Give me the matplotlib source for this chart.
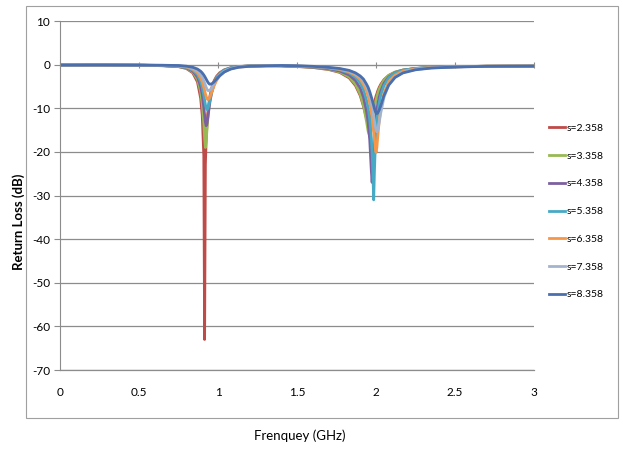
import matplotlib
matplotlib.use("Agg")
import matplotlib.pyplot as plt
from matplotlib.patches import Rectangle

plt.rcParams['font.family'] = ['Lato', 'DejaVu Sans']
plt.rcParams['axes.unicode_minus'] = False

freq = [0.0, 0.25, 0.5, 0.65, 0.75, 0.80, 0.84, 0.87, 0.89, 0.90,
        0.91, 0.915, 0.92, 0.925, 0.93, 0.935, 0.94, 0.945, 0.95, 0.96,
        0.975, 0.99, 1.01, 1.04, 1.08, 1.13, 1.2, 1.3, 1.4, 1.5,
        1.6, 1.7, 1.77, 1.83, 1.87, 1.9, 1.92, 1.94, 1.95, 1.96,
        1.97, 1.975, 1.98, 1.985, 1.99, 1.995, 2.0, 2.005, 2.01, 2.02,
        2.03, 2.05, 2.08, 2.12, 2.17, 2.25, 2.35, 2.5, 2.7, 2.85, 3.0]

s2358 = [-0.1, -0.08, -0.12, -0.25, -0.46, -0.89, -1.87, -3.97, -7.67, -11.6,
         -20.9, -63.0, -22.9, -17.0, -13.6, -11.2, -9.47, -8.1, -6.99, -5.34,
         -3.73, -2.72, -1.88, -1.18, -0.72, -0.44, -0.3, -0.24, -0.29, -0.43,
         -0.65, -1.12, -1.78, -3.04, -4.8, -7.1, -9.5, -12.3, -13.3, -13.2,
         -11.9, -11.0, -10.2, -9.4, -8.6, -7.9, -7.2, -6.7, -6.1, -5.2,
         -4.5, -3.45, -2.46, -1.73, -1.25, -0.9, -0.66, -0.49, -0.37, -0.35, -0.34]

s3358 = [-0.1, -0.08, -0.12, -0.24, -0.43, -0.82, -1.66, -3.38, -6.22, -8.93,
         -13.5, -16.8, -19.0, -17.5, -14.9, -12.5, -10.6, -9.06, -7.81, -5.92,
         -4.1, -2.96, -2.02, -1.25, -0.75, -0.45, -0.31, -0.24, -0.27, -0.41,
         -0.61, -1.05, -1.67, -2.83, -4.5, -6.8, -9.3, -13.1, -15.3, -16.4,
         -14.9, -13.5, -12.2, -11.0, -9.9, -8.9, -8.1, -7.4, -6.7, -5.6,
         -4.8, -3.6, -2.5, -1.72, -1.24, -0.88, -0.64, -0.48, -0.37, -0.35, -0.34]

s4358 = [-0.1, -0.08, -0.12, -0.22, -0.39, -0.74, -1.45, -2.84, -4.99, -6.89,
         -9.73, -11.5, -13.2, -14.0, -13.5, -12.3, -10.9, -9.49, -8.28, -6.35,
         -4.39, -3.15, -2.13, -1.3, -0.77, -0.46, -0.31, -0.24, -0.26, -0.38,
         -0.56, -0.94, -1.45, -2.37, -3.66, -5.4, -7.4, -10.7, -13.3, -17.3,
         -24.3, -27.0, -23.3, -18.9, -15.8, -13.5, -11.7, -10.4, -9.2, -7.4,
         -6.1, -4.3, -2.84, -1.86, -1.29, -0.89, -0.64, -0.48, -0.37, -0.35, -0.34]

s5358 = [-0.1, -0.08, -0.12, -0.2, -0.35, -0.64, -1.23, -2.32, -3.91, -5.21,
         -7.01, -8.07, -9.14, -9.98, -10.3, -10.1, -9.54, -8.77, -7.92, -6.32,
         -4.46, -3.21, -2.17, -1.32, -0.77, -0.45, -0.31, -0.24, -0.23, -0.33,
         -0.48, -0.8, -1.2, -1.91, -2.89, -4.2, -5.7, -8.2, -10.0, -12.6,
         -16.8, -20.1, -25.2, -31.0, -24.1, -18.8, -15.5, -13.1, -11.4, -8.8,
         -7.0, -4.8, -3.0, -1.9, -1.28, -0.87, -0.63, -0.47, -0.36, -0.35, -0.33]

s6358 = [-0.1, -0.08, -0.12, -0.18, -0.31, -0.55, -1.03, -1.88, -3.05, -3.97,
         -5.19, -5.9, -6.64, -7.32, -7.81, -8.0, -7.91, -7.66, -7.28, -6.32,
         -4.86, -3.68, -2.58, -1.61, -0.95, -0.56, -0.37, -0.27, -0.22, -0.31,
         -0.45, -0.71, -1.09, -1.67, -2.44, -3.4, -4.5, -6.1, -7.3, -8.8,
         -10.8, -12.1, -13.6, -15.3, -17.3, -19.2, -20.1, -19.0, -16.8, -12.9,
         -10.0, -6.6, -3.9, -2.4, -1.5, -0.97, -0.67, -0.49, -0.37, -0.35, -0.34]

s7358 = [-0.1, -0.08, -0.12, -0.16, -0.26, -0.46, -0.83, -1.46, -2.29, -2.92,
         -3.74, -4.21, -4.7, -5.19, -5.61, -5.9, -6.0, -5.95, -5.81, -5.3,
         -4.3, -3.36, -2.4, -1.5, -0.89, -0.52, -0.34, -0.26, -0.2, -0.3,
         -0.42, -0.69, -0.98, -1.48, -2.13, -2.9, -3.8, -5.1, -6.1, -7.2,
         -8.8, -9.7, -10.7, -11.8, -13.0, -14.1, -15.0, -15.4, -15.0, -13.2,
         -11.0, -7.5, -4.6, -2.8, -1.76, -1.1, -0.74, -0.52, -0.39, -0.36, -0.35]

s8358 = [-0.1, -0.08, -0.12, -0.14, -0.2, -0.35, -0.6, -1.01, -1.51, -1.89,
         -2.38, -2.67, -2.99, -3.32, -3.66, -3.98, -4.25, -4.43, -4.5, -4.4,
         -3.97, -3.36, -2.57, -1.69, -1.02, -0.6, -0.38, -0.28, -0.19, -0.27,
         -0.39, -0.63, -0.89, -1.32, -1.89, -2.6, -3.3, -4.5, -5.2, -6.2,
         -7.4, -8.0, -8.7, -9.4, -10.1, -10.7, -11.1, -11.2, -11.1, -10.4,
         -9.4, -7.1, -4.7, -2.95, -1.9, -1.18, -0.78, -0.54, -0.4, -0.37, -0.35]

labels = ["s=2.358", "s=3.358", "s=4.358", "s=5.358", "s=6.358", "s=7.358", "s=8.358"]
series = [s2358, s3358, s4358, s5358, s6358, s7358, s8358]
colors = ["#BE4B48", "#98B954", "#7D60A0", "#46AAC5", "#F79646", "#A3B3CE", "#4A6FAE"]

fig = plt.figure(figsize=(6.23, 4.51), dpi=100)
ax = fig.add_axes([0.0963, 0.1796, 0.761, 0.7738])

for vals, lab, col in zip(series, labels, colors):
    ax.plot(freq, vals, color=col, lw=2.0, label=lab)

ax.set_xlim(0, 3)
ax.set_ylim(-70, 10)
ax.set_yticks(range(-70, 11, 10))
ax.set_xticks([0, 0.5, 1, 1.5, 2, 2.5, 3])
ax.set_xticklabels(["0", "0.5", "1", "1.5", "2", "2.5", "3"])
ax.yaxis.grid(True, color="#8C8C8C", lw=0.9)
ax.set_axisbelow(True)
for sp in ["top", "right"]:
    ax.spines[sp].set_visible(False)
ax.spines["left"].set_color("#8C8C8C")
ax.spines["bottom"].set_color("#8C8C8C")
ax.spines["bottom"].set_linewidth(0.9)
ax.tick_params(axis="x", length=0, pad=12, labelsize=8.5)
ax.tick_params(axis="y", length=4, color="#8C8C8C", labelsize=8.5, pad=3)

# x axis crosses at 0 dB
sec = ax.secondary_xaxis(70 / 80)
sec.set_xticks([0, 0.5, 1, 1.5, 2, 2.5, 3])
sec.tick_params(direction="inout", length=5, color="#8C8C8C", labelbottom=False, labeltop=False)
sec.spines["bottom"].set_color("#8C8C8C")
sec.spines["top"].set_color("#8C8C8C")

ax.set_ylabel("Return Loss (dB)", fontweight="bold", fontsize=9.5)
ax.yaxis.set_label_coords(-0.074, 0.424)
fig.text(0.481, 0.033, "Frenquey (GHz)", ha="center", va="center", fontsize=9.5)

fig.legend(loc="upper left", bbox_to_anchor=(0.874, 0.735), frameon=False, fontsize=7.5,
           handlelength=1.6, handletextpad=0.1, labelspacing=1.77, borderaxespad=0)

fig.patches.append(Rectangle((26 / 623, 1 - 418 / 451), 592 / 623, 412 / 451,
                             transform=fig.transFigure, fill=False, ec="#A0A0A0", lw=0.8))

fig.savefig("out.png", dpi=100)
